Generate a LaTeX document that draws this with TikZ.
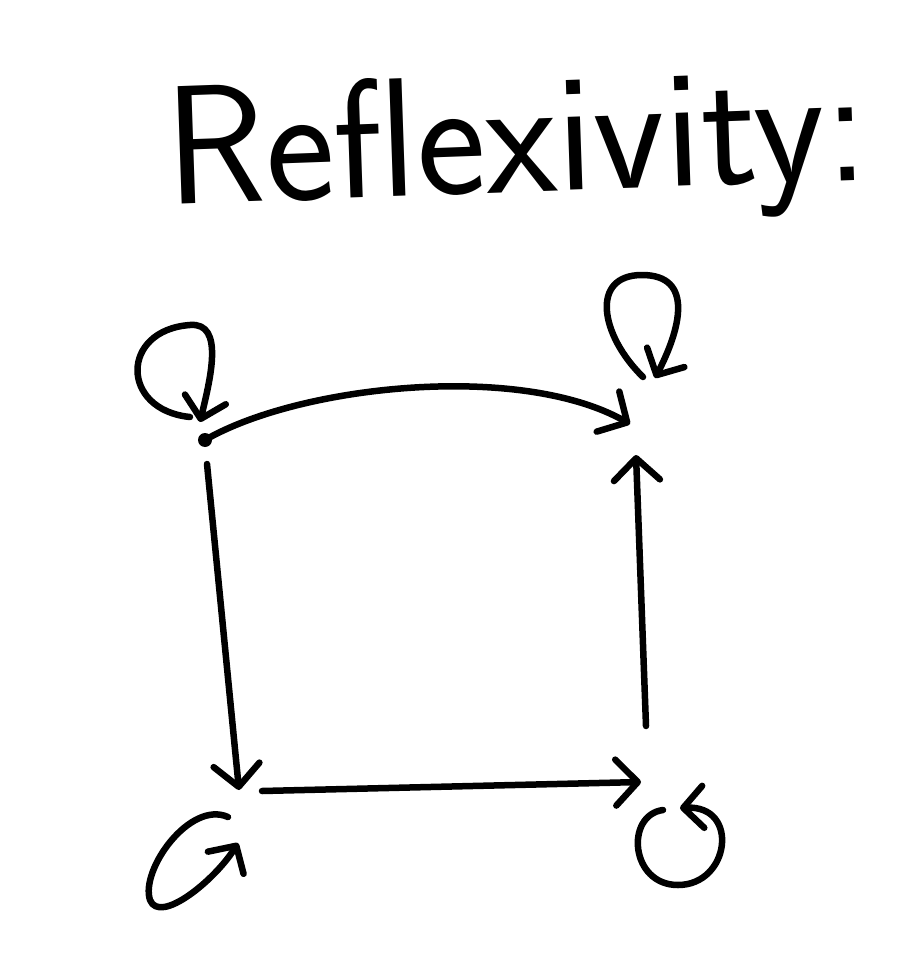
\documentclass[tikz,border=0pt]{standalone}
\usetikzlibrary{arrows.meta}
\begin{document}
\begin{tikzpicture}[x=1pt,y=-1pt,
  pen/.style={line width=6.5pt,line cap=round,line join=round},
  arr/.style={pen,-{Straight Barb[length=22pt,width=46pt,line cap=round,line join=round]}},
  looparr/.style={pen,-{Straight Barb[length=20pt,width=42pt,line cap=round,line join=round]}}]
\useasboundingbox (0,0) rectangle (923,957);
\fill[white] (0,0) rectangle (923,957);
\node[font=\fontsize{141}{141}\sffamily, xscale=1.17, yscale=1.2, rotate=2] (title) at (517,150) {Reflexivity:};
% vertices and connector ends
\coordinate (tl) at (205,440);
\coordinate (tr) at (630,424);
\coordinate (tls) at (207,464);
\coordinate (bl) at (239,790);
\coordinate (bls) at (262,791);
\coordinate (br) at (641,782);
\coordinate (brs) at (646,726);
\coordinate (trb) at (636,455);
\fill (tl) circle (7pt);
% edges
\draw[arr] (tl) .. controls (300,385) and (520,362) .. (tr);
\draw[arr] (tls) -- (bl);
\draw[arr] (bls) -- (br);
\draw[arr] (brs) -- (trb);
% self loops
\coordinate (l1s) at (190,417); \coordinate (l1e) at (200,422);
\coordinate (l2s) at (643,377); \coordinate (l2e) at (655,378);
\coordinate (l3s) at (228,817); \coordinate (l3e) at (238,843);
\coordinate (l4s) at (663,810); \coordinate (l4e) at (680,808);
\draw[looparr] (l1s) .. controls (120,410) and (120,330) .. (190,325) .. controls (225,322) and (210,380) .. (l1e);
\draw[looparr] (l2s) .. controls (600,335) and (590,275) .. (642,275) .. controls (695,275) and (680,330) .. (l2e);
\draw[looparr] (l3s) .. controls (190,800) and (140,870) .. (150,900) .. controls (160,925) and (215,880) .. (l3e);
\draw[looparr] (l4s) .. controls (625,815) and (630,885) .. (678,885) .. controls (730,885) and (740,805) .. (l4e);
\end{tikzpicture}
\end{document}
